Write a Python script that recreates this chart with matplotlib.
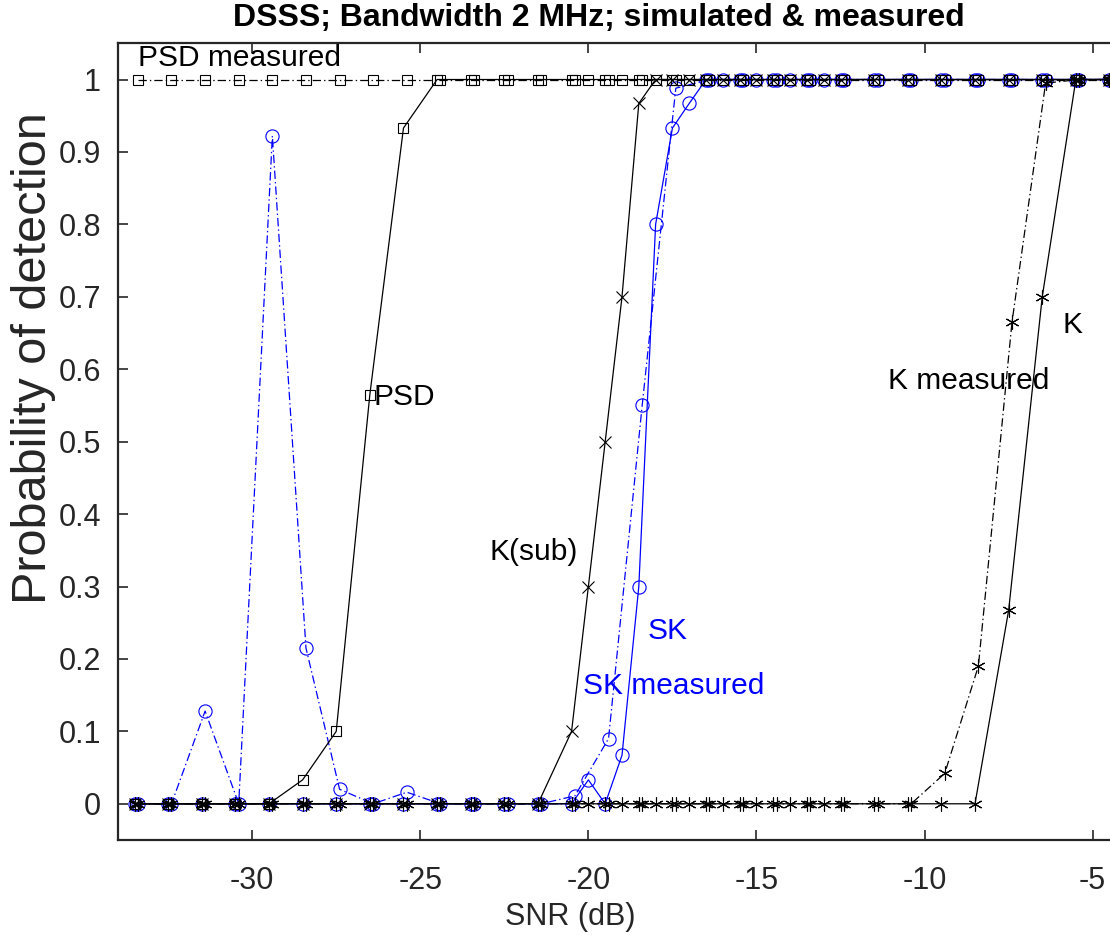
import matplotlib
matplotlib.use("Agg")
import matplotlib.pyplot as plt

plt.rcParams['font.family'] = ['Liberation Sans', 'DejaVu Sans']
plt.rcParams['lines.scale_dashes'] = False

# simulated SNR grid (dB)
snr_sim = [-33.5, -32.5, -31.5, -30.5, -29.5, -28.5, -27.5, -26.5, -25.5, -24.5,
           -23.5, -22.5, -21.5, -20.5, -20, -19.5, -19, -18.5, -18, -17.5,
           -17, -16.5, -16, -15.5, -15, -14.5, -14, -13.5, -13, -12.5,
           -11.5, -10.5, -9.5, -8.5, -7.5, -6.5, -5.5, -4.5]
psd_sim = [0, 0, 0, 0, 0, 0.033, 0.10, 0.565, 0.933, 1,
           1, 1, 1, 1, 1, 1, 1, 1, 1, 1,
           1, 1, 1, 1, 1, 1, 1, 1, 1, 1,
           1, 1, 1, 1, 1, 1, 1, 1]
ksub_sim = [0, 0, 0, 0, 0, 0, 0, 0, 0, 0,
            0, 0, 0, 0.1, 0.3, 0.5, 0.7, 0.967, 1, 1,
            1, 1, 1, 1, 1, 1, 1, 1, 1, 1,
            1, 1, 1, 1, 1, 1, 1, 1]
sk_sim = [0, 0, 0, 0, 0, 0, 0, 0, 0, 0,
          0, 0, 0, 0, 0.033, 0, 0.067, 0.30, 0.80, 0.933,
          0.967, 1, 1, 1, 1, 1, 1, 1, 1, 1,
          1, 1, 1, 1, 1, 1, 1, 1]
k_sim = [0, 0, 0, 0, 0, 0, 0, 0, 0, 0,
         0, 0, 0, 0, 0, 0, 0, 0, 0, 0,
         0, 0, 0, 0, 0, 0, 0, 0, 0, 0,
         0, 0, 0, 0, 0.267, 0.70, 1, 1]

# measured SNR grid (dB)
snr_meas = [-33.4, -32.4, -31.4, -30.4, -29.4, -28.4, -27.4, -26.4, -25.4, -24.4,
            -23.4, -22.4, -21.4, -20.4, -19.4, -18.4, -17.4, -16.4, -15.4, -14.4,
            -13.4, -12.4, -11.4, -10.4, -9.4, -8.4, -7.4, -6.4, -5.4, -4.4]
psd_meas = [1] * 30
sk_meas = [0, 0, 0.128, 0, 0.922, 0.215, 0.02, 0, 0.016, 0,
           0, 0, 0, 0.011, 0.09, 0.55, 0.988, 1, 1, 1,
           1, 1, 1, 1, 1, 1, 1, 1, 1, 1]
k_meas = [0, 0, 0, 0, 0, 0, 0, 0, 0, 0,
          0, 0, 0, 0, 0, 0, 0, 0, 0, 0,
          0, 0, 0, 0, 0.042, 0.19, 0.665, 0.995, 1, 1]

blue = (0, 0, 1)
gray = (0.15, 0.15, 0.15)
dashdot = (0, (6, 2.2, 1, 2.2))
star = (6, 2, 0)

fig = plt.figure(figsize=(11.1, 9.42), dpi=100)
# axes runs past the right edge of the figure, as in the cropped original
ax = fig.add_axes([117.7 / 1110, 102 / 942, 1032.3 / 1110, 796.7 / 942])

mk = dict(markerfacecolor='none', markeredgewidth=0.8, linewidth=0.9)
ax.plot(snr_meas, sk_meas, color=blue, linestyle=dashdot, marker='o', markersize=9.5, markeredgecolor=blue, **mk)
ax.plot(snr_sim, sk_sim, color=blue, linestyle='-', marker='o', markersize=9.5, markeredgecolor=blue, **mk)
ax.plot(snr_meas, psd_meas, color='k', linestyle=dashdot, marker='s', markersize=7, markeredgecolor='k', **mk)
ax.plot(snr_sim, psd_sim, color='k', linestyle='-', marker='s', markersize=7, markeredgecolor='k', **mk)
ax.plot(snr_sim, ksub_sim, color='k', linestyle='-', marker='x', markersize=8, markeredgecolor='k', **mk)
ax.plot(snr_meas, k_meas, color='k', linestyle=dashdot, marker=star, markersize=10, markeredgecolor='k', **mk)
ax.plot(snr_sim, k_sim, color='k', linestyle='-', marker=star, markersize=10, markeredgecolor='k', **mk)

fs = 21.5
ax.text(-33.4, 1.03, 'PSD measured', fontsize=fs, va='center', ha='left')
ax.text(-26.4, 0.562, 'PSD', fontsize=fs, va='center', ha='left')
ax.text(-22.95, 0.347, 'K(sub)', fontsize=fs, va='center', ha='left')
ax.text(-18.25, 0.238, 'SK', fontsize=fs, va='center', ha='left', color=blue)
ax.text(-20.15, 0.162, 'SK measured', fontsize=fs, va='center', ha='left', color=blue)
ax.text(-11.1, 0.584, 'K measured', fontsize=fs, va='center', ha='left')
ax.text(-5.9, 0.661, 'K', fontsize=fs, va='center', ha='left')

ax.set_xlim(-34, -34 + 1032.3 / 33.62)
ax.set_ylim(-0.05, 1.05)
ax.set_xticks([-30, -25, -20, -15, -10, -5])
ax.set_xticklabels(['-30', '-25', '-20', '-15', '-10', '-5'], fontsize=22)
ax.set_yticks([0, 0.1, 0.2, 0.3, 0.4, 0.5, 0.6, 0.7, 0.8, 0.9, 1])
ax.set_yticklabels(['0', '0.1', '0.2', '0.3', '0.4', '0.5', '0.6', '0.7', '0.8', '0.9', '1'], fontsize=22)
ax.tick_params(direction='in', length=7, width=1.2, top=True, right=False, colors=gray)
ax.tick_params(axis='x', pad=19)
ax.tick_params(axis='y', pad=12)
ax.spines['right'].set_visible(False)
for s in ax.spines.values():
    s.set_linewidth(1.6)
    s.set_color(gray)

fig.text(599 / 1110, 1 - 18 / 942, 'DSSS; Bandwidth 2 MHz; simulated & measured',
         fontsize=23, fontweight='bold', ha='center', va='center')
fig.text(570 / 1110, 1 - 917 / 942, 'SNR (dB)', fontsize=22,
         ha='center', va='center', color=gray)
fig.text(34 / 1110, 1 - 358 / 942, 'Probability of detection', fontsize=35, rotation=90,
         ha='center', va='center', color=gray)

fig.savefig('out.png', dpi=100)
